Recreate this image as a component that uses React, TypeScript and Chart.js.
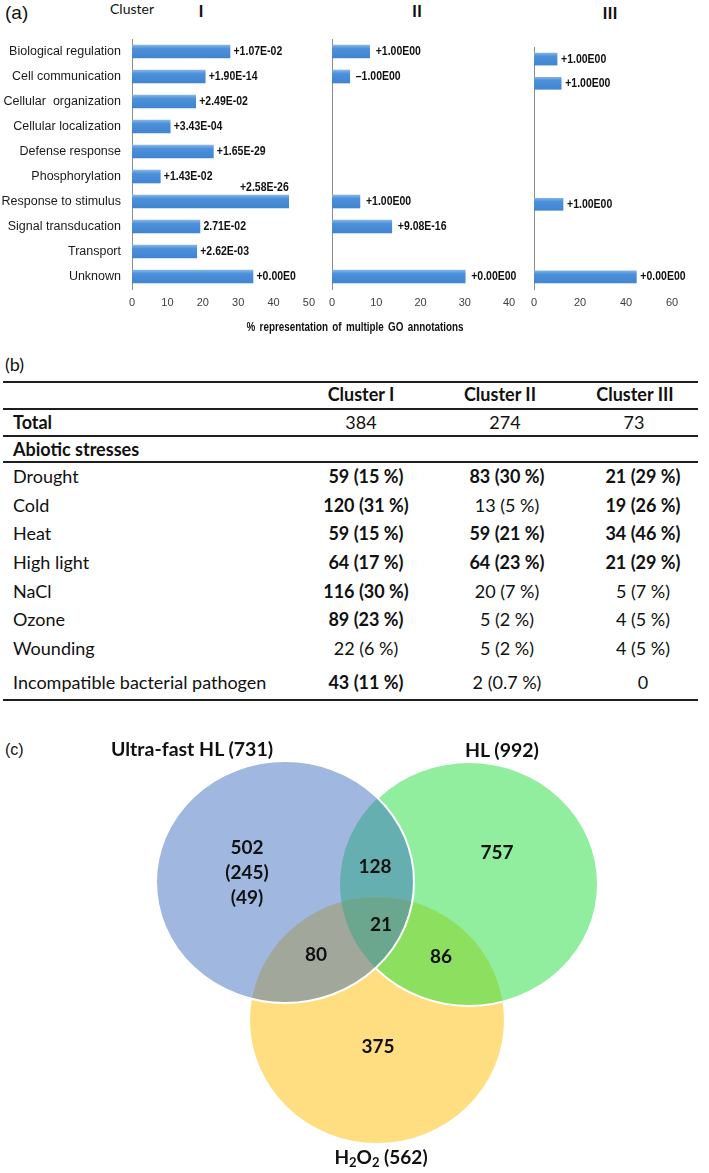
import React, { useEffect, useRef } from "react";
import { Chart, registerables } from "chart.js";

Chart.register(...registerables);

// ---------------- Panel (a) data ----------------
const goCategories = [
  "Biological regulation",
  "Cell communication",
  "Cellular  organization",
  "Cellular localization",
  "Defense response",
  "Phosphorylation",
  "Response to stimulus",
  "Signal transducation",
  "Transport",
  "Unknown",
];
const clusterIPercent = [27.7, 20.7, 18.0, 10.8, 23.0, 8.0, 44.3, 19.2, 18.3, 34.2];
const clusterIIPercent = [8.5, 4.0, null, null, null, null, 6.3, 13.5, null, 30.1];
const clusterIIIPercent = [10.0, 11.8, null, null, null, null, 12.6, null, null, 44.5];
const clusterIPValues = ["+1.07E-02", "+1.90E-14", "+2.49E-02", "+3.43E-04", "+1.65E-29", "+1.43E-02", "+2.58E-26", "2.71E-02", "+2.62E-03", "+0.00E0"];
const clusterIIPValues = ["+1.00E00", "\u20131.00E00", "", "", "", "", "+1.00E00", "+9.08E-16", "", "+0.00E00"];
const clusterIIIPValues = ["+1.00E00", "+1.00E00", "", "", "", "", "+1.00E00", "", "", "+0.00E00"];
const clusterNames = ["I", "II", "III"];
const axisMaxes = [50, 40, 60];
const axisSteps = [10, 10, 20];
const axisTitle = "% representation of multiple GO annotations";

// ---------------- Panel (b) data ----------------
const tableColumns = ["Cluster I", "Cluster II", "Cluster III"];
const tableTotals = ["384", "274", "73"];
const stressNames = ["Drought", "Cold", "Heat", "High light", "NaCl", "Ozone", "Wounding", "Incompatible bacterial pathogen"];
const clusterICounts = ["59 (15 %)", "120 (31 %)", "59 (15 %)", "64 (17 %)", "116 (30 %)", "89 (23 %)", "22 (6 %)", "43 (11 %)"];
const clusterIICounts = ["83 (30 %)", "13 (5 %)", "59 (21 %)", "64 (23 %)", "20 (7 %)", "5 (2 %)", "5 (2 %)", "2 (0.7 %)"];
const clusterIIICounts = ["21 (29 %)", "19 (26 %)", "34 (46 %)", "21 (29 %)", "5 (7 %)", "4 (5 %)", "4 (5 %)", "0"];
const clusterISignificant = [true, true, true, true, true, true, false, true];
const clusterIISignificant = [true, false, true, true, false, false, false, false];
const clusterIIISignificant = [true, true, true, true, false, false, false, false];

// ---------------- Panel (c) data ----------------
const vennSetNames = ["Ultra-fast HL (731)", "HL (992)", "(562)"];
const vennCenterX = [285, 469, 377];
const vennCenterY = [882, 884, 1020];
const vennRadiusX = [129, 129, 127];
const vennRadiusY = [121, 122, 123];
const vennRegionCounts = [["502", "(245)", "(49)"], ["128"], ["757"], ["21"], ["80"], ["86"], ["375"]];
const vennRegionX = [247, 375, 497, 381, 316, 441, 378];
const vennRegionY = [848, 867, 853, 925, 955, 957, 1047];

// ---------------- fonts / colours ----------------
const SANS = "'Liberation Sans', Arial, sans-serif";
const CAL = "Lato, 'Noto Sans', sans-serif";

const valueLabelPlugin = {
  id: "valueLabels",
  afterDatasetsDraw(chart: any) {
    const o = chart.options.plugins.valueLabels;
    const meta = chart.getDatasetMeta(0);
    const ctx = chart.ctx;
    ctx.save();
    ctx.font = `bold 12.5px ${SANS}`;
    ctx.fillStyle = "#111";
    ctx.textBaseline = "middle";
    meta.data.forEach((bar: any, i: number) => {
      const t = o.labels[i];
      if (!t) return;
      ctx.save();
      if (o.above === i) {
        ctx.translate(bar.x, bar.y - 14);
        ctx.scale(0.84, 1);
        ctx.textAlign = "right";
      } else {
        ctx.translate(bar.x + o.gap, bar.y);
        ctx.scale(0.84, 1);
        ctx.textAlign = "left";
      }
      ctx.fillText(t, 0, 0);
      ctx.restore();
    });
    ctx.restore();
  },
};

const barFill = (c: any) => {
  const ys = c.chart.scales && c.chart.scales.y;
  if (!ys) return "#4A8FD8";
  const y = ys.getPixelForValue(c.dataIndex);
  if (!isFinite(y)) return "#4A8FD8";
  const g = c.chart.ctx.createLinearGradient(0, y - 7, 0, y + 7);
  g.addColorStop(0, "#8DBBEB");
  g.addColorStop(0.3, "#4D90DA");
  g.addColorStop(1, "#3F84D0");
  return g;
};

function makeBarChart(canvas: HTMLCanvasElement, o: any) {
  return new Chart(canvas, {
    type: "bar",
    data: {
      labels: goCategories,
      datasets: [{ data: o.values, backgroundColor: barFill, borderWidth: 0, barThickness: o.thickness }],
    },
    options: {
      indexAxis: "y",
      animation: false,
      responsive: false,
      events: [],
      layout: { padding: o.padding },
      plugins: {
        legend: { display: false },
        tooltip: { enabled: false },
        valueLabels: { labels: o.pLabels, gap: o.gap, above: o.above },
      } as any,
      scales: {
        x: {
          type: "linear",
          min: 0,
          max: o.max,
          ticks: { stepSize: o.step, color: "#404040", font: { family: SANS, size: 11 }, padding: 7, maxRotation: 0 },
          grid: { display: false, drawTicks: false },
          border: { display: false },
          afterFit: (s: any) => {
            s.height = 26;
          },
        },
        y: {
          type: "category",
          ticks: { display: o.showCats, color: "#1a1a1a", font: { family: SANS, size: 12.5 }, padding: 11, autoSkip: false },
          grid: { display: false, drawTicks: false },
          border: { display: true, color: "#8c8c8c", width: 1 },
          afterFit: (s: any) => {
            if (o.yWidth != null) s.width = o.yWidth;
          },
        },
      },
    } as any,
    plugins: [valueLabelPlugin as any],
  });
}

const vennColors = {
  blue: "#A0B8E0",
  green: "#92EE9F",
  yellow: "#FFDE82",
  bg: "#66AFB0",
  by: "#A1A79B",
  gy: "#8DE05F",
  bgy: "#6BA78F",
};

const vennPlugin = {
  id: "venn",
  beforeDatasetsDraw(chart: any) {
    const ctx = chart.ctx;
    const xs = chart.scales.x;
    const ys = chart.scales.y;
    const ell = (i: number) => {
      const cx = xs.getPixelForValue(vennCenterX[i]);
      const cy = ys.getPixelForValue(vennCenterY[i]);
      const rx = Math.abs(xs.getPixelForValue(vennCenterX[i] + vennRadiusX[i]) - cx);
      const ry = Math.abs(ys.getPixelForValue(vennCenterY[i] + vennRadiusY[i]) - cy);
      ctx.beginPath();
      ctx.ellipse(cx, cy, rx, ry, 0, 0, Math.PI * 2);
    };
    const B = 0, G = 1, Y = 2;
    ctx.save();
    ell(Y); ctx.fillStyle = vennColors.yellow; ctx.fill();
    ell(G); ctx.fillStyle = vennColors.green; ctx.fill();
    ctx.save(); ell(G); ctx.clip(); ell(Y); ctx.fillStyle = vennColors.gy; ctx.fill(); ctx.restore();
    ell(G); ctx.strokeStyle = "#ffffff"; ctx.lineWidth = 2; ctx.stroke();
    ell(B); ctx.fillStyle = vennColors.blue; ctx.fill();
    ctx.save();
    ell(B); ctx.clip();
    ell(G); ctx.fillStyle = vennColors.bg; ctx.fill();
    ell(Y); ctx.fillStyle = vennColors.by; ctx.fill();
    ell(G); ctx.clip();
    ell(Y); ctx.fillStyle = vennColors.bgy; ctx.fill();
    ctx.restore();
    ell(B); ctx.strokeStyle = "#ffffff"; ctx.lineWidth = 2; ctx.stroke();
    // region counts
    ctx.fillStyle = "#111";
    ctx.font = `bold 19px ${CAL}`;
    ctx.textAlign = "center";
    ctx.textBaseline = "middle";
    vennRegionCounts.forEach((lines, r) => {
      lines.forEach((t, k) => {
        ctx.fillText(t, xs.getPixelForValue(vennRegionX[r]), ys.getPixelForValue(vennRegionY[r] + k * 25));
      });
    });
    ctx.restore();
  },
};

type TP = { x: number; y: number; align?: "left" | "center" | "right"; sx?: number; style?: React.CSSProperties; children: React.ReactNode };
const T = ({ x, y, align = "left", sx, style, children }: TP) => {
  const tx = align === "left" ? "0" : align === "center" ? "-50%" : "-100%";
  const sc = sx ? ` scaleX(${sx})` : "";
  return (
    <div
      style={{
        position: "absolute",
        left: x,
        top: y,
        transform: `translate(${tx}, -50%)${sc}`,
        whiteSpace: "pre",
        lineHeight: 1.2,
        ...style,
      }}
    >
      {children}
    </div>
  );
};

const Rule = ({ y, h }: { y: number; h: number }) => (
  <div style={{ position: "absolute", left: 3, width: 695, top: y - h / 2, height: h, background: "#1e1e1e" }} />
);

export default function App() {
  const c1 = useRef<HTMLCanvasElement>(null);
  const c2 = useRef<HTMLCanvasElement>(null);
  const c3 = useRef<HTMLCanvasElement>(null);
  const cv = useRef<HTMLCanvasElement>(null);

  useEffect(() => {
    const charts: Chart[] = [];
    charts.push(
      makeBarChart(c1.current!, {
        values: clusterIPercent, pLabels: clusterIPValues, max: axisMaxes[0], step: axisSteps[0],
        showCats: true, yWidth: 132, padding: { top: 39, right: 9, bottom: 5, left: 0 }, gap: 3.5, above: 6, thickness: 13,
      })
    );
    charts.push(
      makeBarChart(c2.current!, {
        values: clusterIIPercent, pLabels: clusterIIPValues, max: axisMaxes[1], step: axisSteps[1],
        showCats: false, padding: { top: 39, right: 15, bottom: 5, left: 9 }, gap: 6, above: -1, thickness: 13,
      })
    );
    charts.push(
      makeBarChart(c3.current!, {
        values: clusterIIIPercent, pLabels: clusterIIIPValues, max: axisMaxes[2], step: axisSteps[2],
        showCats: false, padding: { top: 47, right: 37, bottom: 5, left: 5 }, gap: 4, above: -1, thickness: 12,
      })
    );
    charts.push(
      new Chart(cv.current!, {
        type: "scatter",
        data: {
          datasets: [{ data: vennCenterX.map((x, i) => ({ x, y: vennCenterY[i] })), pointRadius: 0 }],
        },
        options: {
          animation: false,
          responsive: false,
          events: [],
          layout: { padding: 0 },
          plugins: { legend: { display: false }, tooltip: { enabled: false } },
          scales: {
            x: { type: "linear", min: 0, max: 709, display: false },
            y: { type: "linear", min: 760, max: 1173, reverse: true, display: false },
          },
        } as any,
        plugins: [vennPlugin as any],
      })
    );
    return () => charts.forEach((c) => c.destroy());
  }, []);

  const rowY = stressNames.map((_, i) => (i < 7 ? 477 + i * 28.67 : 683));
  const colCenters = [366, 507, 643];
  const headCenters = [361, 500, 635];
  const totalCenters = [361, 505, 634];
  const colData = [clusterICounts, clusterIICounts, clusterIIICounts];
  const colSig = [clusterISignificant, clusterIISignificant, clusterIIISignificant];
  const clusterLabelPos = [
    { x: 201, y: 11 },
    { x: 417, y: 11 },
    { x: 610, y: 13 },
  ];
  const TF = 18;

  return (
    <div style={{ position: "absolute", left: 0, top: 0, width: 709, height: 1173, background: "#fff", color: "#111", overflow: "hidden" }}>
      {/* Panel (a) */}
      <T x={5} y={13} style={{ fontFamily: SANS, fontSize: 19 }}>(a)</T>
      <T x={110} y={9} style={{ fontFamily: CAL, fontSize: 14 }}>Cluster</T>
      {clusterNames.map((n, i) => (
        <T key={n} x={clusterLabelPos[i].x} y={clusterLabelPos[i].y} align="center" style={{ fontFamily: CAL, fontSize: 17, fontWeight: 700 }}>
          {n}
        </T>
      ))}
      <canvas ref={c1} width={322} height={320} style={{ position: "absolute", left: 0, top: 0, width: 322, height: 320 }} />
      <canvas ref={c2} width={202} height={320} style={{ position: "absolute", left: 322, top: 0, width: 202, height: 320 }} />
      <canvas ref={c3} width={185} height={320} style={{ position: "absolute", left: 524, top: 0, width: 185, height: 320 }} />
      <T x={355} y={327} align="center" sx={0.82} style={{ fontFamily: SANS, fontSize: 12, fontWeight: 700, wordSpacing: 2 }}>
        {axisTitle}
      </T>

      {/* Panel (b) */}
      <T x={5} y={365} style={{ fontFamily: CAL, fontSize: 18 }}>(b)</T>
      <Rule y={382} h={2} />
      {tableColumns.map((c, i) => (
        <T key={c} x={headCenters[i]} y={395} align="center" style={{ fontFamily: CAL, fontSize: TF, fontWeight: 700 }}>
          {c}
        </T>
      ))}
      <Rule y={409} h={1.5} />
      <T x={13} y={423} style={{ fontFamily: CAL, fontSize: TF, fontWeight: 700 }}>Total</T>
      {tableTotals.map((t, i) => (
        <T key={i} x={totalCenters[i]} y={423} align="center" style={{ fontFamily: CAL, fontSize: TF }}>
          {t}
        </T>
      ))}
      <Rule y={436} h={1.5} />
      <T x={13} y={450} style={{ fontFamily: CAL, fontSize: TF, fontWeight: 700 }}>Abiotic stresses</T>
      <Rule y={462} h={1.5} />
      {stressNames.map((s, r) => (
        <React.Fragment key={s}>
          <T x={13} y={rowY[r]} style={{ fontFamily: CAL, fontSize: TF }}>{s}</T>
          {colData.map((col, c) => (
            <T key={c} x={colCenters[c]} y={rowY[r]} align="center" style={{ fontFamily: CAL, fontSize: TF, fontWeight: colSig[c][r] ? 700 : 400 }}>
              {col[r]}
            </T>
          ))}
        </React.Fragment>
      ))}
      <Rule y={700} h={2.5} />

      {/* Panel (c) */}
      <canvas ref={cv} width={709} height={413} style={{ position: "absolute", left: 0, top: 760, width: 709, height: 413 }} />
      <T x={5} y={750} style={{ fontFamily: SANS, fontSize: 16 }}>(c)</T>
      <T x={192} y={749} align="center" style={{ fontFamily: CAL, fontSize: 19.5, fontWeight: 700 }}>{vennSetNames[0]}</T>
      <T x={502} y={750} align="center" style={{ fontFamily: CAL, fontSize: 19.5, fontWeight: 700 }}>{vennSetNames[1]}</T>
      <T x={381} y={1158} align="center" style={{ fontFamily: CAL, fontSize: 19, fontWeight: 700 }}>
        H<sub style={{ fontSize: 13, verticalAlign: "-0.25em" }}>2</sub>O<sub style={{ fontSize: 13, verticalAlign: "-0.25em" }}>2</sub> {vennSetNames[2]}
      </T>
    </div>
  );
}
